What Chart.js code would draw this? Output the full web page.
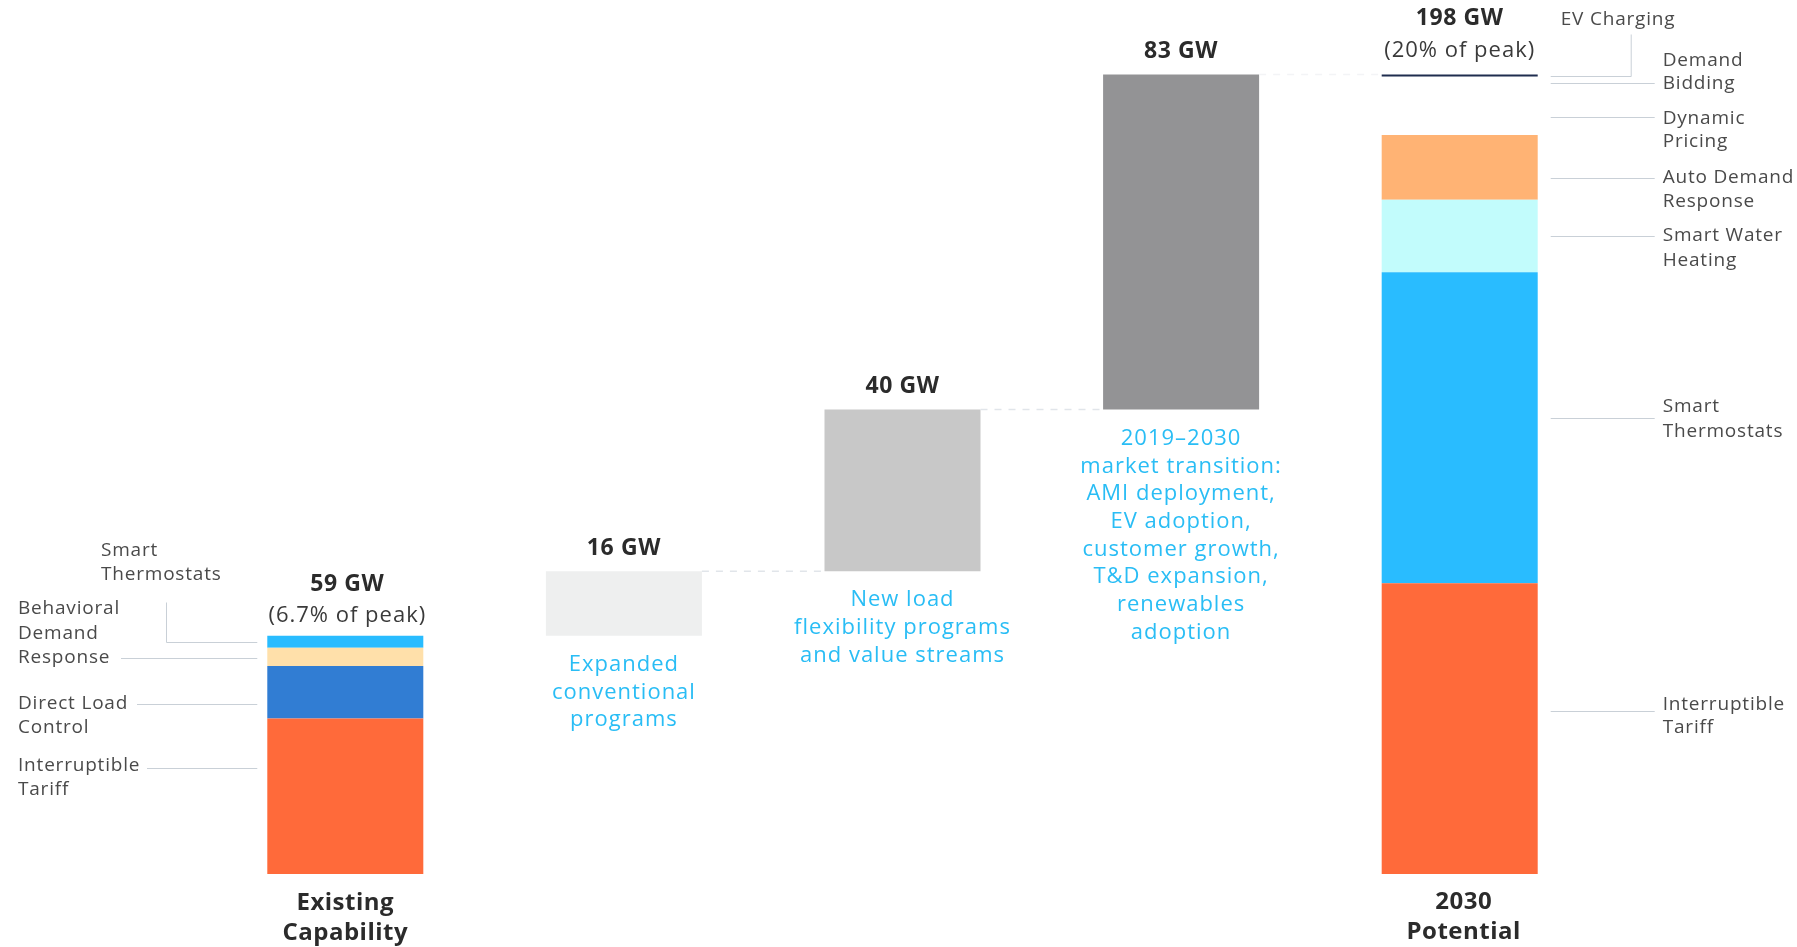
<!DOCTYPE html>
<html>

<head>
    <meta charset="utf-8">
    <title>Load flexibility 2030</title>
    <script src="https://cdn.jsdelivr.net/npm/chart.js@4.4.1/dist/chart.umd.min.js"></script>
    <style>
        body { margin: 0; background: #fff; }
        #wrap { width: 1797px; height: 947px; position: relative; }
    </style>
</head>

<body>
    <div id="wrap">
        <canvas id="myChart"></canvas>
    </div>
    <script>
        // data (GW)
        const categories = ['Existing Capability', 'Expanded conventional programs', 'New load flexibility programs', 'Market transition', '2030 Potential'];

        const existingNames = ['Interruptible Tariff', 'Direct Load Control', 'Behavioral Demand Response', 'Smart Thermostats'];
        const existingValues = [38.5, 13, 4.5, 3];
        const existingColors = ['#ff6a3a', '#317dd3', '#ffe0aa', '#29bcff'];

        const potentialNames = ['Interruptible Tariff', 'Smart Thermostats', 'Smart Water Heating', 'Auto Demand Response', 'Dynamic Pricing', 'Demand Bidding', 'EV Charging'];
        const potentialValues = [72, 77, 18, 16, 9, 5, 1];
        const potentialColors = ['#ff6a3a', '#29bcff', '#c2fcfc', '#ffb374', '#ffffff', '#ffffff', '#ffffff'];

        const stepValues = [16, 40, 83];
        const stepColors = ['#eeefef', '#c8c8c8', '#939395'];
        const stepNotes = [
            ['Expanded', 'conventional', 'programs'],
            ['New load', 'flexibility programs', 'and value streams'],
            ['2019\u20132030', 'market transition:', 'AMI deployment,', 'EV adoption,', 'customer growth,', 'T&D expansion,', 'renewables', 'adoption']
        ];

        const existingTotal = existingValues.reduce((a, b) => a + b, 0);
        const potentialTotal = potentialValues.reduce((a, b) => a + b, 0);

        // build floating segments
        const datasets = [];
        let acc = 0;
        existingValues.forEach((v, i) => {
            const row = categories.map(() => null);
            row[0] = [acc, acc + v];
            acc += v;
            datasets.push({ label: 'Existing ' + existingNames[i], data: row, backgroundColor: existingColors[i] });
        });
        acc = 0;
        potentialValues.forEach((v, i) => {
            const row = categories.map(() => null);
            row[4] = [acc, acc + v];
            acc += v;
            datasets.push({ label: '2030 ' + potentialNames[i], data: row, backgroundColor: potentialColors[i] });
        });
        const stepRow = categories.map(() => null);
        let base = existingTotal;
        stepValues.forEach((v, i) => {
            stepRow[i + 1] = [base, base + v];
            base += v;
        });
        datasets.push({ label: 'Steps', data: stepRow, backgroundColor: [null].concat(stepColors) });
        const stepIndex = datasets.length - 1;

        const FONT = '"Open Sans", Lato, sans-serif';
        const LEAD = '#c9d0d7';

        // left side labels of the existing bar: seg, frac within segment
        const leftNotes = [
            { seg: 0, frac: 0.68, from: 147, lines: ['Interruptible', 'Tariff'], dy: [-3, 21] },
            { seg: 1, frac: 0.27, from: 137, lines: ['Direct Load', 'Control'], dy: [-1, 23] },
            { seg: 2, frac: 0.45, from: 121, lines: ['Behavioral', 'Demand', 'Response'], dy: [-50, -25, -1] },
            { seg: 3, frac: 0.5, from: 166, elbow: 40, lines: ['Smart', 'Thermostats'], dy: [-92, -68], tx: 101 }
        ];
        const rightNotes = [
            { seg: 0, frac: 0.56, lines: ['Interruptible', 'Tariff'], dy: [-7, 16] },
            { seg: 1, frac: 0.53, lines: ['Smart', 'Thermostats'], dy: [-12, 13] },
            { seg: 2, frac: 0.5, lines: ['Smart Water', 'Heating'], dy: [-1, 24] },
            { seg: 3, frac: 0.34, lines: ['Auto Demand', 'Response'], dy: [-1, 23] },
            { seg: 4, frac: 0.5, lines: ['Dynamic', 'Pricing'], dy: [1, 24] },
            { seg: 5, frac: 0.8, lines: ['Demand', 'Bidding'], dy: [-23, 0] },
            { seg: 6, frac: 0.5, lines: ['EV Charging'], ev: true }
        ];

        const annotate = {
            id: 'annotate',
            afterDatasetsDraw(chart) {
                const ctx = chart.ctx;
                const x = chart.scales.x, y = chart.scales.y;
                const barOf = (ds, i) => chart.getDatasetMeta(ds).data[i];
                const b0 = barOf(0, 0);
                const b4 = barOf(existingValues.length, 4);
                const w = b0.width;
                ctx.save();
                ctx.textBaseline = 'middle';

                // dashed connectors between waterfall steps
                ctx.lineWidth = 1.5;
                ctx.setLineDash([7, 7]);
                let lvl = existingTotal;
                for (let i = 1; i <= stepValues.length; i++) {
                    const b = barOf(stepIndex, i);
                    const last = i === stepValues.length;
                    const nextLeft = last ? b4.x - w / 2 : barOf(stepIndex, i + 1).x - w / 2;
                    lvl += stepValues[i - 1];
                    const py = y.getPixelForValue(lvl);
                    ctx.strokeStyle = last ? '#f3f4f6' : '#e1e5ea';
                    ctx.beginPath();
                    ctx.moveTo(b.x + w / 2, py);
                    ctx.lineTo(nextLeft, py);
                    ctx.stroke();
                }
                ctx.setLineDash([]);

                // step values and notes
                ctx.textAlign = 'center';
                lvl = existingTotal;
                stepValues.forEach((v, i) => {
                    const cx = x.getPixelForValue(i + 1);
                    const top = y.getPixelForValue(lvl + v);
                    const bot = y.getPixelForValue(lvl);
                    lvl += v;
                    ctx.fillStyle = '#2b2b2b';
                    ctx.font = 'bold 23px ' + FONT;
                    ctx.letterSpacing = '0.6px';
                    ctx.fillText(v + ' GW', cx, top - 23);
                    ctx.fillStyle = '#29bdf5';
                    ctx.font = '22px ' + FONT;
                    ctx.letterSpacing = '1px';
                    stepNotes[i].forEach((t, k) => ctx.fillText(t, cx, bot + 29 + k * 27.7));
                });

                // totals
                const c0 = x.getPixelForValue(0), c4 = x.getPixelForValue(4);
                let top0 = y.getPixelForValue(existingTotal);
                ctx.fillStyle = '#2b2b2b';
                ctx.font = 'bold 23px ' + FONT;
                ctx.letterSpacing = '0.6px';
                ctx.fillText(existingTotal + ' GW', c0 + 2, top0 - 51);
                ctx.font = '22px ' + FONT;
                ctx.letterSpacing = '1px';
                ctx.fillStyle = '#3a3a3a';
                ctx.fillText('(6.7% of peak)', c0 + 2, top0 - 20);
                const top4 = y.getPixelForValue(potentialTotal);
                ctx.fillStyle = '#2b2b2b';
                ctx.font = 'bold 23px ' + FONT;
                ctx.letterSpacing = '0.6px';
                ctx.fillText(potentialTotal + ' GW', c4, top4 - 56);
                ctx.font = '22px ' + FONT;
                ctx.letterSpacing = '1px';
                ctx.fillStyle = '#3a3a3a';
                ctx.fillText('(20% of peak)', c4, top4 - 24);
                ctx.strokeStyle = '#1f2d4f';
                ctx.lineWidth = 2;
                ctx.beginPath();
                ctx.moveTo(c4 - w / 2, top4 + 1);
                ctx.lineTo(c4 + w / 2, top4 + 1);
                ctx.stroke();

                // category labels
                ctx.fillStyle = '#2b2b2b';
                ctx.font = 'bold 24px ' + FONT;
                ctx.letterSpacing = '0.5px';
                const base0 = y.getPixelForValue(0);
                ctx.fillText('Existing', c0, base0 + 29);
                ctx.fillText('Capability', c0, base0 + 59);
                ctx.fillText('2030', c4 + 4, base0 + 28);
                ctx.fillText('Potential', c4 + 4, base0 + 58);

                // leader labels
                ctx.font = '19px ' + FONT;
                ctx.letterSpacing = '0.8px';
                ctx.fillStyle = '#4a4a4a';
                ctx.lineWidth = 1;
                ctx.strokeStyle = LEAD;
                const left0 = b0.x - w / 2 - 10;
                let cum = [0];
                existingValues.forEach(v => cum.push(cum[cum.length - 1] + v));
                ctx.textAlign = 'left';
                leftNotes.forEach(n => {
                    const ly = Math.round(y.getPixelForValue(cum[n.seg] + existingValues[n.seg] * n.frac)) + 0.5;
                    ctx.beginPath();
                    if (n.elbow) {
                        ctx.moveTo(n.from + 0.5, ly - n.elbow);
                        ctx.lineTo(n.from + 0.5, ly);
                    } else {
                        ctx.moveTo(n.from, ly);
                    }
                    ctx.lineTo(left0, ly);
                    ctx.stroke();
                    n.lines.forEach((t, k) => ctx.fillText(t, n.tx || 18, ly + n.dy[k]));
                });

                cum = [0];
                potentialValues.forEach(v => cum.push(cum[cum.length - 1] + v));
                const r0 = b4.x + w / 2 + 13, r1 = r0 + 104, tx = r1 + 8;
                rightNotes.forEach(n => {
                    const ly = Math.round(y.getPixelForValue(cum[n.seg] + potentialValues[n.seg] * n.frac)) + 0.5;
                    ctx.beginPath();
                    if (n.ev) {
                        const vx = r0 + 80.5;
                        ctx.moveTo(r0, ly);
                        ctx.lineTo(vx, ly);
                        ctx.lineTo(vx, ly - 42);
                        ctx.stroke();
                        ctx.fillText(n.lines[0], r0 + 10, ly - 57);
                        return;
                    }
                    ctx.moveTo(r0, ly);
                    ctx.lineTo(r1, ly);
                    ctx.stroke();
                    n.lines.forEach((t, k) => ctx.fillText(t, tx, ly + n.dy[k]));
                });
                ctx.restore();
            }
        };

        const config = {
            type: 'bar',
            data: { labels: categories, datasets: datasets },
            options: {
                responsive: true,
                maintainAspectRatio: false,
                animation: false,
                layout: { padding: { left: 206, right: 198, top: 26, bottom: 73 } },
                datasets: {
                    bar: { grouped: false, barPercentage: 1, categoryPercentage: 0.56, borderWidth: 0 }
                },
                plugins: {
                    legend: { display: false },
                    tooltip: { enabled: false }
                },
                scales: {
                    x: { display: false },
                    y: { display: false, min: 0, max: 210 }
                }
            },
            plugins: [annotate]
        };

        const myChart = new Chart(document.getElementById('myChart'), config);
    </script>
</body>

</html>
